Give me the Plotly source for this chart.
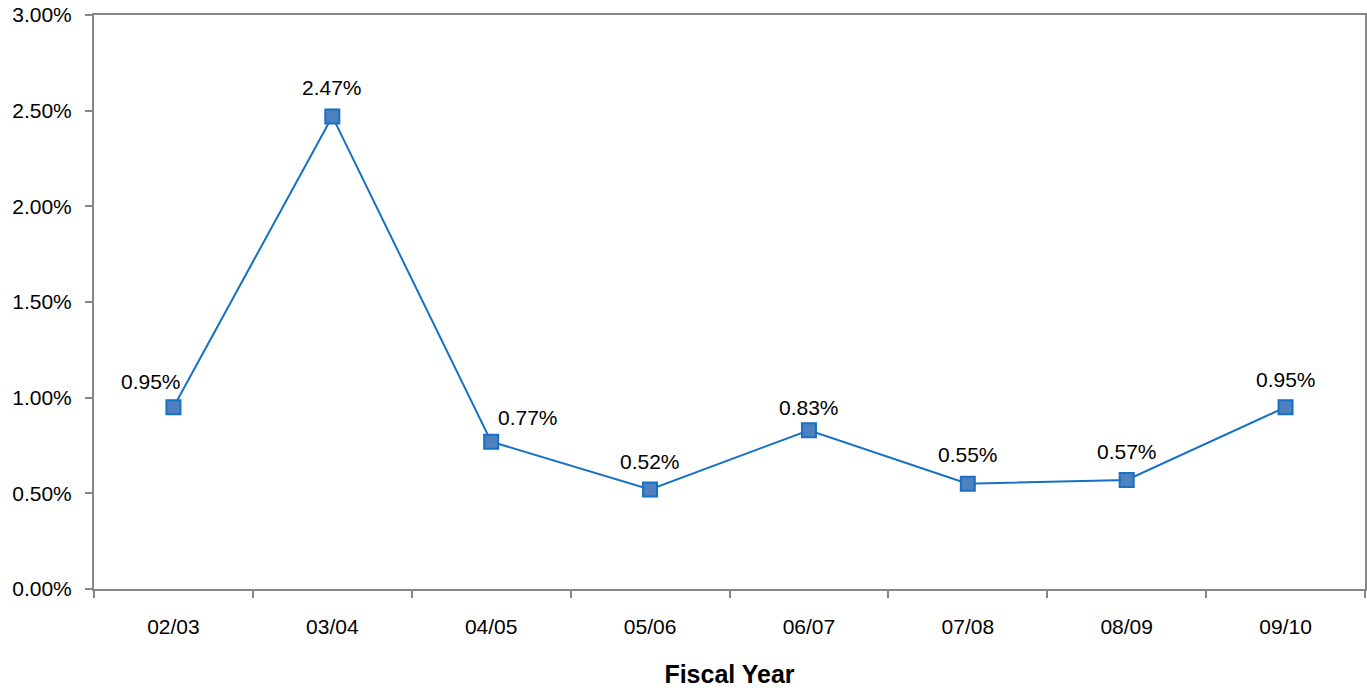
import plotly.graph_objects as go

categories = ["02/03", "03/04", "04/05", "05/06", "06/07", "07/08", "08/09", "09/10"]
values = [0.0095, 0.0247, 0.0077, 0.0052, 0.0083, 0.0055, 0.0057, 0.0095]
labels = ["0.95%", "2.47%", "0.77%", "0.52%", "0.83%", "0.55%", "0.57%", "0.95%"]
label_xshift = [-22, 0, 37, 0, 0, 0, 0, 0]
label_yshift = [26, 29, 24, 28, 23, 29, 28, 28]

FONT = "Liberation Sans, Arial, sans-serif"
AXIS = "#878787"

fig = go.Figure()
fig.add_trace(go.Scatter(
    x=categories, y=values, mode="lines+markers",
    line=dict(color="#1670C4", width=2),
    marker=dict(symbol="square", size=14, color="#4F81C0",
                line=dict(color="#1670C4", width=2)),
    hoverinfo="skip", showlegend=False,
))

for c, v, t, dx, dy in zip(categories, values, labels, label_xshift, label_yshift):
    fig.add_annotation(x=c, y=v, text=t, showarrow=False, xshift=dx, yshift=dy,
                       font=dict(family=FONT, size=21, color="#000000"))

fig.update_layout(
    width=1367, height=688,
    margin=dict(l=94, r=0, t=15, b=99),
    paper_bgcolor="white", plot_bgcolor="white",
    font=dict(family=FONT, size=21, color="#000000"),
    xaxis=dict(
        type="category", tickson="boundaries",
        showline=True, linecolor=AXIS, linewidth=2, mirror=True,
        ticks="outside", ticklen=7, tickwidth=2, tickcolor=AXIS,
        showgrid=False, zeroline=False,
        ticklabelstandoff=18,
        title=dict(text="<b>Fiscal Year</b>", font=dict(size=25), standoff=31),
        range=[-0.5, 7.5],
    ),
    yaxis=dict(
        range=[0, 0.03], dtick=0.005, tickformat=".2%",
        showline=True, linecolor=AXIS, linewidth=2, mirror=True,
        ticks="outside", ticklen=7, tickwidth=2, tickcolor=AXIS,
        showgrid=False, zeroline=False,
        ticklabelstandoff=9,
    ),
)

fig.write_html("out.html")
